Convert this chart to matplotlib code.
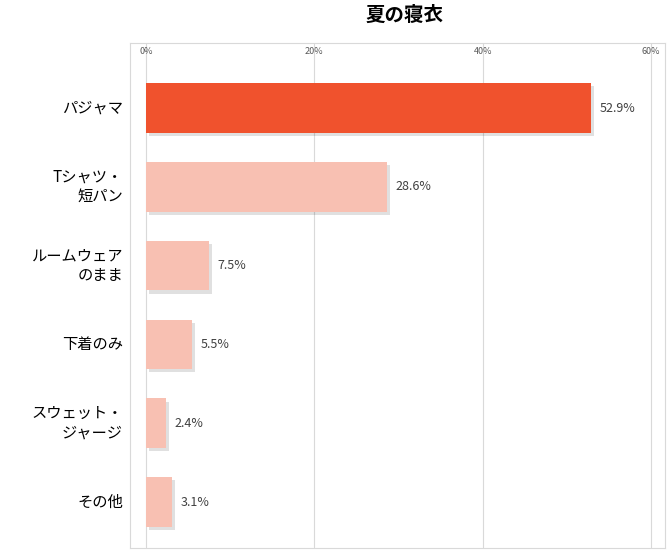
import matplotlib
matplotlib.use("Agg")
import matplotlib.pyplot as plt
from matplotlib.patches import Rectangle

plt.rcParams["font.family"] = "Noto Sans CJK JP"

# data
categories = ["パジャマ", "Tシャツ・\n短パン", "ルームウェア\nのまま", "下着のみ", "スウェット・\nジャージ", "その他"]
values = [52.9, 28.6, 7.5, 5.5, 2.4, 3.1]
xticks = [0, 20, 40, 60]
colors = ["#F0522D"] + ["#F8C0B2"] * 5

W, H = 670, 550
fig = plt.figure(figsize=(W / 100, H / 100), dpi=100)
left, right, top, bottom = 130, 665, 43, 548
ax = fig.add_axes([left / W, 1 - bottom / H, (right - left) / W, (bottom - top) / H])

pxper = (651 - 146) / 60.0
ax.set_xlim(-(146 - left) / pxper, 60 + (right - 651) / pxper)
step = 78.8
ax.set_ylim((bottom - 108) / step, -(108 - top) / step)

for x in xticks:
    ax.axvline(x, color="#D9D9D9", lw=0.8, zorder=0)
    ax.text(x, -0.72, f"{x}%", ha="center", va="center", fontsize=6.5, color="#595959")

ys = list(range(len(values)))
# soft shadow
ax.barh([y + 0.04 for y in ys], values, height=0.63, left=0.35, color="#000000", alpha=0.12, zorder=1)
ax.barh(ys, values, height=0.63, color=colors, zorder=2)
for y, v in zip(ys, values):
    ax.text(v + 1.0, y, f"{v}%", va="center", ha="left", fontsize=9, color="#404040")

ax.set_xticks([])
ax.set_yticks([])
for s in ax.spines.values():
    s.set_color("#D9D9D9")

for y, c in zip(ys, categories):
    ax.text(-(146 - 123) / pxper, y, c, ha="right", va="center", fontsize=11, linespacing=1.15)

fig.text(0.5 * (left + right) / W + 0.01, 1 - 15 / H, "夏の寝衣", ha="center", va="center",
         fontsize=14, fontweight="bold")

fig.savefig("out.png", dpi=100)
